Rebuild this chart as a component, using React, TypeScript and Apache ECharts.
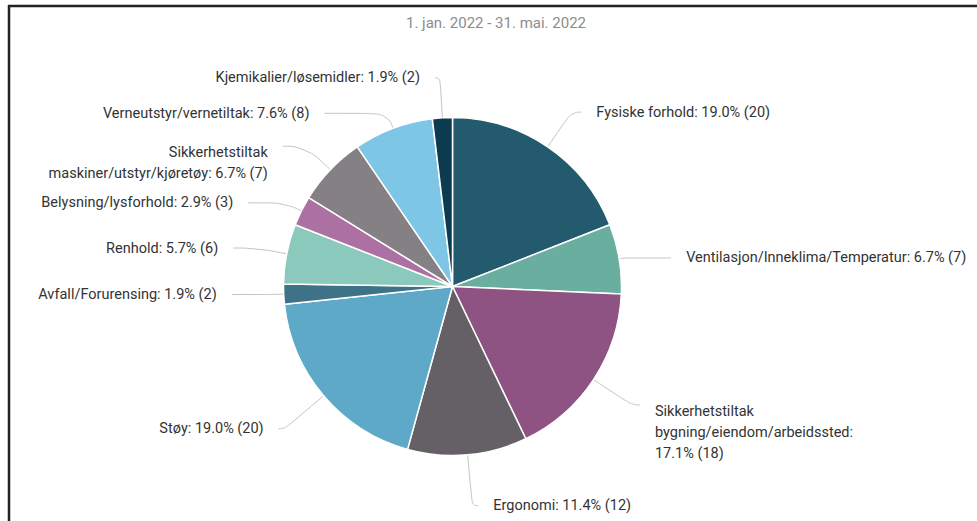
import React, { useEffect, useRef } from "react";
import * as echarts from "echarts";

const titleText = "1. jan. 2022 - 31. mai. 2022";

const categories = [
  "Fysiske forhold",
  "Ventilasjon/Inneklima/Temperatur",
  "Sikkerhetstiltak bygning/eiendom/arbeidssted",
  "Ergonomi",
  "Støy",
  "Avfall/Forurensing",
  "Renhold",
  "Belysning/lysforhold",
  "Sikkerhetstiltak maskiner/utstyr/kjøretøy",
  "Verneutstyr/vernetiltak",
  "Kjemikalier/løsemidler",
];

const counts = [20, 7, 18, 12, 20, 2, 6, 3, 7, 8, 2];

const colors = [
  "#245a6e",
  "#6aaea0",
  "#8e5283",
  "#646065",
  "#5ea9c8",
  "#3e7288",
  "#8ac9bb",
  "#ad70a2",
  "#858083",
  "#7ec6e6",
  "#0c3a4e",
];

// label wrapping: break the name after its first word / before the value
const wrapName = [false, false, true, false, false, false, false, false, true, false, false];
const wrapValue = [false, false, true, false, false, false, false, false, false, false, false];

// connector styling per slice (radial part, horizontal part)
const lineLen1 = [42, 5, 46, 51, 51, 10, 30, 18, 34, 16, 40];
const lineLen2 = [10, 47, 8, 6, 6, 42, 24, 37, 23, 63, 5];

export default function App() {
  const ref = useRef<HTMLDivElement>(null);

  useEffect(() => {
    if (!ref.current) return;
    const chart = echarts.init(ref.current, undefined, { renderer: "svg" });
    const total = counts.reduce((a, b) => a + b, 0);
    const LH = 21;
    const lineCount = categories.map(
      (_, i) => 1 + (wrapName[i] ? 1 : 0) + (wrapValue[i] ? 1 : 0)
    );

    const data = categories.map((name, i) => ({
      name,
      value: counts[i],
      itemStyle: { color: colors[i] },
      labelLine: { length: lineLen1[i], length2: lineLen2[i] },
    }));

    chart.setOption({
      animation: false,
      backgroundColor: "#ffffff",
      title: {
        text: titleText,
        left: 491,
        top: 10,
        textAlign: "center",
        textStyle: {
          fontFamily: "Roboto",
          fontSize: 15,
          fontWeight: "normal",
          color: "#8c8c8c",
        },
      },
      graphic: [
        {
          type: "line",
          shape: { x1: 9, y1: 5, x2: 9, y2: 521 },
          style: { stroke: "#222", lineWidth: 2.5 },
        },
        {
          type: "line",
          shape: { x1: 8, y1: 6, x2: 977, y2: 6 },
          style: { stroke: "#222", lineWidth: 2.5 },
        },
      ],
      series: [
        {
          type: "pie",
          center: [452.5, 286.5],
          radius: 169,
          startAngle: 90,
          clockwise: true,
          avoidLabelOverlap: false,
          itemStyle: { borderColor: "#ffffff", borderWidth: 1.5 },
          label: {
            show: true,
            position: "outside",
            fontFamily: "Roboto",
            fontSize: 14.5,
            color: "#333333",
            lineHeight: LH,
            distanceToLabelLine: 15,
            formatter: (p: any) => {
              const i = p.dataIndex;
              const nm = wrapName[i] ? p.name.replace(" ", "\n") : p.name;
              const pct = ((p.value / total) * 100).toFixed(1);
              return `${nm}:${wrapValue[i] ? "\n" : " "}${pct}% (${p.value})`;
            },
          },
          labelLayout: (params: any) => {
            const n = lineCount[params.dataIndex];
            return {
              hideOverlap: false,
              dy: n > 1 ? ((n - 1) * LH) / 2 + 6.5 : 0,
            };
          },
          labelLine: {
            show: true,
            smooth: 0.5,
            lineStyle: { color: "#c4c4c4", width: 1 },
          },
          emphasis: { disabled: true },
          data,
        },
      ],
    });

    return () => chart.dispose();
  }, []);

  return (
    <div
      ref={ref}
      style={{ position: "fixed", left: 0, top: 0, width: 977, height: 521 }}
    />
  );
}
